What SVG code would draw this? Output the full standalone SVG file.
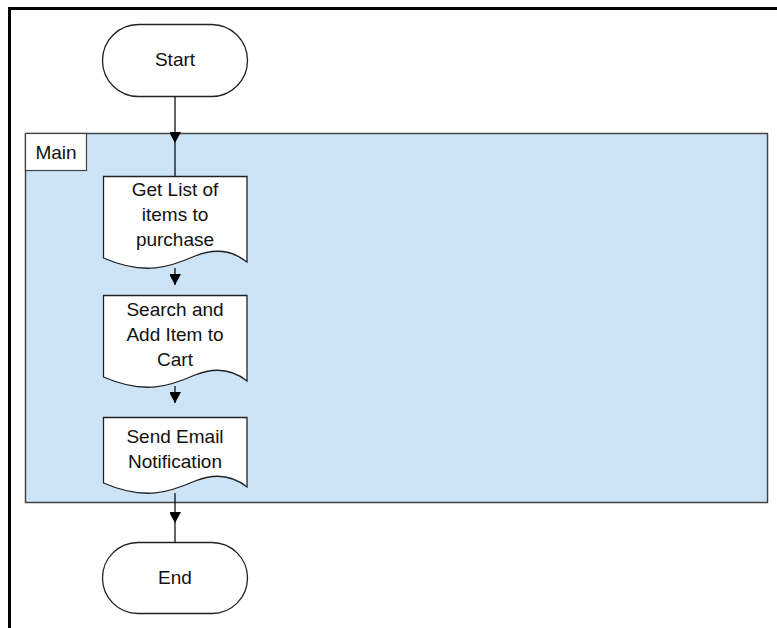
<svg xmlns="http://www.w3.org/2000/svg" width="777" height="628" viewBox="0 0 777 628">
<style>
.t{font-family:"Liberation Sans",Arial,sans-serif;font-size:19px;fill:#111;text-anchor:middle}
.shape{fill:#fff;stroke:#222;stroke-width:1.3}
.conn{stroke:#111;stroke-width:1.3;fill:none}
</style>
<defs>
<marker id="ah" markerWidth="12" markerHeight="11" refX="11" refY="6" orient="auto" markerUnits="userSpaceOnUse">
<path d="M0,0 L11,6 L0,12 Z" fill="#000"/>
</marker>
</defs>
<rect width="777" height="628" fill="#fff"/>
<path d="M9.5,628 V8.5 H777" fill="none" stroke="#000" stroke-width="3"/>
<g id="main">
<rect x="25.5" y="133.5" width="742" height="369" fill="#cde3f6" stroke="#444" stroke-width="1.5"/>
<rect x="25.5" y="133.5" width="61" height="37" fill="#fff" stroke="#444" stroke-width="1.2"/>
<text class="t" x="56" y="159">Main</text>
</g>
<g id="connectors">
<path class="conn" d="M175,96 V143" marker-end="url(#ah)"/>
<path class="conn" d="M175,143 V177"/>
<path class="conn" d="M175,268 V285" marker-end="url(#ah)"/>
<path class="conn" d="M175,386 V403" marker-end="url(#ah)"/>
<path class="conn" d="M175,493 V523" marker-end="url(#ah)"/>
<path class="conn" d="M175,523 V542"/>
</g>
<g id="start">
<rect class="shape" x="102.5" y="24.5" width="145" height="72" rx="36" ry="36"/>
<text class="t" x="175" y="66">Start</text>
</g>
<g id="doc1">
<path class="shape" d="M103.5,176.5 H247 V262 C232,250 215,248 195,256 C170,267 145,276 103.5,258 Z"/>
<text class="t" x="175" y="196">Get List of</text>
<text class="t" x="175" y="221">items to</text>
<text class="t" x="175" y="246">purchase</text>
</g>
<g id="doc2">
<path class="shape" d="M103.5,295.5 H247 V381 C232,369 215,367 195,375 C170,386 145,395 103.5,377 Z"/>
<text class="t" x="175" y="316">Search and</text>
<text class="t" x="175" y="341">Add Item to</text>
<text class="t" x="175" y="366">Cart</text>
</g>
<g id="doc3">
<path class="shape" d="M103.5,417.5 H247 V487 C232,475 215,473 195,481 C170,492 145,501 103.5,483 Z"/>
<text class="t" x="175" y="443">Send Email</text>
<text class="t" x="175" y="468">Notification</text>
</g>
<g id="end">
<rect class="shape" x="102.5" y="542.5" width="145" height="71" rx="35.5" ry="35.5"/>
<text class="t" x="175" y="584">End</text>
</g>
</svg>
